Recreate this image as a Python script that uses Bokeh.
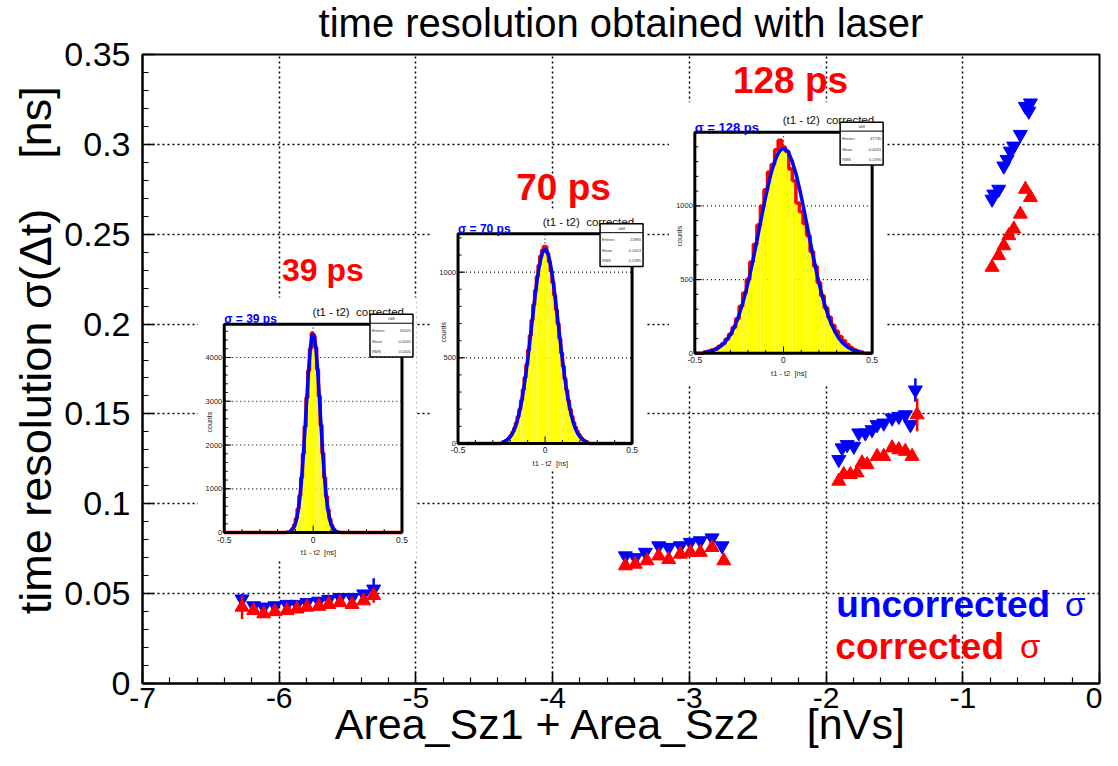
import math
import numpy as np
from bokeh.plotting import figure
from bokeh.models import Range1d, FixedTicker, ColumnDataSource, Title
from bokeh.core.properties import value
from bokeh.embed import file_html
from bokeh.resources import INLINE

FONT = "Liberation Sans"
NB = "\u00a0"

# ---------------- main axes ----------------
x_ticks = [-7, -6, -5, -4, -3, -2, -1, 0]
x_tick_labels = ["-7", "-6", "-5", "-4", "-3", "-2", "-1", "0"]
y_ticks = [0, 0.05, 0.1, 0.15, 0.2, 0.25, 0.3, 0.35]
y_tick_labels = ["0", "0.05", "0.1", "0.15", "0.2", "0.25", "0.3", "0.35"]

# ---------------- main data (uncorrected = blue, corrected = red) ----------------
unc1_x = [-6.272, -6.187, -6.113, -6.031, -5.943, -5.870, -5.797, -5.711, -5.638, -5.555, -5.467, -5.382, -5.309]
unc1_y = [0.0470, 0.0432, 0.0425, 0.0432, 0.0440, 0.0440, 0.0450, 0.0458, 0.0468, 0.0478, 0.0478, 0.0498, 0.0525]
unc1_e = [0.003, 0.002, 0.002, 0.002, 0.002, 0.002, 0.002, 0.002, 0.002, 0.002, 0.002, 0.002, 0.006]
cor1_x = [-6.272, -6.187, -6.113, -6.031, -5.943, -5.870, -5.797, -5.711, -5.638, -5.555, -5.467, -5.382, -5.309]
cor1_y = [0.0425, 0.0406, 0.0388, 0.0400, 0.0406, 0.0415, 0.0425, 0.0430, 0.0440, 0.0450, 0.0440, 0.0460, 0.0490]
cor1_e = [0.0066, 0.002, 0.002, 0.002, 0.002, 0.002, 0.002, 0.002, 0.002, 0.002, 0.002, 0.002, 0.004]

unc2_x = [-3.468, -3.395, -3.322, -3.224, -3.151, -3.066, -2.993, -2.920, -2.834, -2.761]
unc2_y = [0.0710, 0.0700, 0.0730, 0.0766, 0.0757, 0.0766, 0.0785, 0.0794, 0.0810, 0.0766]
unc2_e = [0.002, 0.002, 0.002, 0.002, 0.002, 0.002, 0.002, 0.002, 0.002, 0.002]
cor2_x = [-3.468, -3.395, -3.310, -3.224, -3.151, -3.066, -2.993, -2.920, -2.834, -2.748]
cor2_y = [0.0655, 0.0664, 0.0683, 0.0710, 0.0690, 0.0720, 0.0730, 0.0730, 0.0757, 0.0683]
cor2_e = [0.002, 0.002, 0.002, 0.002, 0.002, 0.002, 0.002, 0.002, 0.002, 0.002]

unc3_x = [-1.907, -1.883, -1.846, -1.797, -1.761, -1.713, -1.664, -1.627, -1.578, -1.517, -1.468, -1.420, -1.383, -1.347]
unc3_y = [0.1246, 0.1311, 0.1329, 0.1320, 0.1394, 0.1394, 0.1412, 0.1440, 0.1449, 0.1477, 0.1486, 0.1495, 0.1440, 0.1633]
unc3_e = [0.002, 0.002, 0.002, 0.002, 0.002, 0.002, 0.002, 0.002, 0.002, 0.002, 0.002, 0.002, 0.002, 0.0065]
cor3_x = [-1.907, -1.871, -1.822, -1.773, -1.737, -1.700, -1.627, -1.578, -1.517, -1.468, -1.420, -1.371, -1.334]
cor3_y = [0.1126, 0.1163, 0.1163, 0.1172, 0.1228, 0.1218, 0.1264, 0.1264, 0.1311, 0.1301, 0.1292, 0.1264, 0.1495]
cor3_e = [0.002, 0.002, 0.002, 0.002, 0.002, 0.002, 0.002, 0.002, 0.002, 0.002, 0.002, 0.002, 0.0092]

unc4_x = [-0.786, -0.773, -0.737, -0.700, -0.676, -0.652, -0.627, -0.579, -0.542, -0.517, -0.505]
unc4_y = [0.2695, 0.2723, 0.2750, 0.2879, 0.2916, 0.2962, 0.2990, 0.3055, 0.3211, 0.3184, 0.3230]
unc4_e = [0.002, 0.002, 0.002, 0.002, 0.002, 0.002, 0.002, 0.002, 0.002, 0.002, 0.002]
cor4_x = [-0.786, -0.737, -0.700, -0.663, -0.627, -0.579, -0.542, -0.505]
cor4_y = [0.2316, 0.2381, 0.2436, 0.2492, 0.2529, 0.2612, 0.2750, 0.2704]
cor4_e = [0.002, 0.002, 0.002, 0.002, 0.002, 0.002, 0.002, 0.002]

# resolution annotations
res_labels = ["39 ps", "70 ps", "128 ps"]
res_x = [-5.680, -3.920, -2.260]
res_y = [0.2300, 0.2760, 0.3355]
res_size = ["32px", "37px", "37px"]

# ---------------- inset histograms (t1 - t2 corrected) ----------------
# inset 1 : sigma = 39 ps
h1_lo, h1_bw = -0.15, 0.01
h1_counts = [8, 20, 45, 95, 180, 320, 540, 840, 1260, 1800, 2420, 3080, 3700, 4200, 4560,
             4500, 4230, 3730, 3120, 2450, 1810, 1260, 830, 520, 310, 170, 90, 42, 18, 7]
f1_step = 0.01
fit1_half = [4514, 4240, 3742, 3102, 2416, 1768, 1215, 784, 476, 271, 145, 73, 34, 15, 6]
h1_yticks = [0, 1000, 2000, 3000, 4000]
h1_ylabels = ["0", "1000", "2000", "3000", "4000"]
h1_ymax = 4760
h1_stats = ["45620", "-0.0002", "0.0405"]

# inset 2 : sigma = 70 ps
h2_lo, h2_bw = -0.25, 0.01
h2_counts = [6, 10, 15, 22, 34, 48, 66, 90, 120, 155, 200, 252, 315, 385, 460, 545, 630, 720, 810, 895,
             975, 1040, 1095, 1130, 1150, 1148, 1110, 1060, 1005, 940, 865, 780, 700, 612, 528,
             450, 378, 312, 252, 200, 158, 122, 95, 72, 54, 38, 26, 17, 10, 6]
f2_step = 0.01
fit2_half = [1132, 1113, 1076, 1023, 956, 879, 794, 706, 617, 530, 448, 372, 304, 244, 193, 150,
             114, 86, 63, 46, 33, 23, 16, 11, 7]
h2_yticks = [0, 500, 1000]
h2_ylabels = ["0", "500", "1000"]
h2_ymax = 1225
h2_stats = ["21890", "0.0013", "0.0781"]

# inset 3 : sigma = 128 ps
h3_lo, h3_bw = -0.45, 0.02
h3_counts = [10, 14, 22, 30, 48, 66, 95, 130, 175, 235, 320, 410, 500, 620, 740, 870, 1000, 1110, 1230, 1280,
             1380, 1445, 1400, 1370, 1250, 1170, 1020, 960, 880, 800, 690, 590, 480, 390, 310,
             245, 190, 150, 115, 85, 60, 40, 25, 15, 8]
f3_step = 0.02
fit3_half = [1386, 1357, 1300, 1220, 1120, 1007, 886, 763, 644, 531, 429, 340, 263, 199, 148, 107,
             76, 53, 36, 24, 16, 10, 6]
h3_yticks = [0, 500, 1000]
h3_ylabels = ["0", "500", "1000"]
h3_ymax = 1500
h3_stats = ["47730", "-0.0031", "0.1390"]

inset_sigma_txt = ["\u03c3 = 39 ps", "\u03c3 = 70 ps", "\u03c3 = 128 ps"]

# inset placement (main data coordinates): frame box and white pad
F1 = (-6.402, -5.102, 0.0840, 0.1999); P1 = (-6.594, -4.999, 0.0687, 0.2148)
F2 = (-4.692, -3.419, 0.1336, 0.2503); P2 = (-4.882, -3.310, 0.1185, 0.2641)
F3 = (-2.960, -1.663, 0.1837, 0.3068); P3 = (-3.149, -1.569, 0.1667, 0.3234)

# ---------------- figure ----------------
W, H = 1102, 750
ML, MR, MT, MB = 142, 3, 50, 68
PXX = (W - ML - MR) / 7.0
PXY = (H - MT - MB) / 0.35

p = figure(width=W, height=H, x_range=Range1d(-7, 0), y_range=Range1d(0, 0.35),
           output_backend="svg", toolbar_location=None, title=None,
           min_border_left=ML, min_border_right=MR, min_border_top=MT, min_border_bottom=0)
p.background_fill_color = "white"
p.border_fill_color = "white"
p.outline_line_color = "black"
p.outline_line_width = 2

ttl = Title(text="time resolution obtained with laser", align="center", vertical_align="top",
            text_font=FONT, text_font_size="40px", text_font_style="normal", text_color="black",
            standoff=0, padding=dict(left=0, right=0, top=0, bottom=8))
p.add_layout(ttl, "above")

p.xaxis.ticker = FixedTicker(ticks=x_ticks, minor_ticks=[round(-7 + 0.2 * i, 3) for i in range(36)])
p.yaxis.ticker = FixedTicker(ticks=y_ticks, minor_ticks=[round(0.01 * i, 3) for i in range(36)])
p.xaxis.major_label_overrides = {t: s for t, s in zip(x_ticks, x_tick_labels)}
p.yaxis.major_label_overrides = {t: s for t, s in zip(y_ticks, y_tick_labels)}
for ax in (p.xaxis, p.yaxis):
    ax.axis_line_width = 2
    ax.axis_line_color = "black"
    ax.major_tick_in = 12
    ax.major_tick_out = 0
    ax.minor_tick_in = 6
    ax.minor_tick_out = 0
    ax.major_tick_line_width = 1.5
    ax.minor_tick_line_width = 1.2
    ax.major_tick_line_color = "black"
    ax.minor_tick_line_color = "black"
    ax.major_label_text_font = FONT
    ax.major_label_text_color = "black"
    ax.axis_label_text_font = FONT
    ax.axis_label_text_font_style = "normal"
    ax.axis_label_text_color = "black"
p.yaxis.major_label_text_font_size = "34px"
p.xaxis.major_label_text_font_size = "30px"
p.xaxis.major_label_standoff = 4
p.yaxis.major_label_standoff = 12
p.xaxis.axis_label = "Area_Sz1 + Area_Sz2" + NB * 4 + "[nVs]"
p.xaxis.axis_label_text_font_size = "43px"
p.xaxis.axis_label_standoff = -11
p.yaxis.axis_label = NB * 3 + "time resolution \u03c3(\u0394t)" + NB * 4 + "[ns]"
p.yaxis.axis_label_text_font_size = "45px"
p.yaxis.axis_label_standoff = 0

p.grid.grid_line_color = "black"
p.grid.grid_line_dash = "2 3"
p.grid.grid_line_width = 1.5


def txt(r, x, y, s, size, color="black", align="left", baseline="middle", angle=0.0, bold=False):
    r.text(x=x, y=y, text=s, text_font=value(FONT), text_font_size=size, text_color=color,
           text_align=align, text_baseline=baseline, angle=angle,
           text_font_style="bold" if bold else "normal")


def inset(frame, pad, ymax, lo, bw, counts, fstep, fit_half, yticks, ylabels, ystep, sig, stats, sig_size):
    fx0, fx1, fy0, fy1 = frame
    p.quad(left=[pad[0]], right=[pad[1]], bottom=[pad[2]], top=[pad[3]],
           fill_color="white", line_color=None)
    sub = p.subplot(x_source=Range1d(-0.5, 0.5), y_source=Range1d(0, ymax),
                    x_target=Range1d(fx0, fx1), y_target=Range1d(fy0, fy1))
    kx = 1.0 / ((fx1 - fx0) * PXX)
    ky = ymax / ((fy1 - fy0) * PXY)
    # grid
    gx = [[-0.5, 0.5] for t in yticks[1:]] + [[0.0, 0.0]]
    gy = [[t, t] for t in yticks[1:]] + [[0.0, ymax]]
    sub.multi_line(xs=gx, ys=gy, line_color="black", line_dash="1 3", line_width=1.2)
    # histogram
    n = len(counts)
    edges = [lo + bw * i for i in range(n + 1)]
    sub.quad(left=edges[:-1], right=edges[1:], bottom=[0] * n, top=counts,
             fill_color="#ffff00", line_color=None)
    sx, sy = [-0.5, edges[0]], [0, 0]
    for i, c in enumerate(counts):
        sx += [edges[i], edges[i + 1]]
        sy += [c, c]
    sx += [edges[-1], 0.5]
    sy += [0, 0]
    sub.line(sx, sy, line_color="#ff0000", line_width=3.5)
    # gaussian fit
    m = len(fit_half)
    fxs = [-(fstep / 2 + fstep * (m - 1 - i)) for i in range(m)] + [fstep / 2 + fstep * i for i in range(m)]
    fys = fit_half[::-1] + fit_half
    sub.line(fxs, fys, line_color="#0000ff", line_width=3.5)
    # ticks
    mt = [t for t in np.arange(0, ymax, ystep)]
    sub.segment(x0=[-0.5] * len(mt), y0=mt, x1=[-0.5 + 3.5 * kx] * len(mt), y1=mt, line_color="black", line_width=1)
    sub.segment(x0=[-0.5] * len(yticks), y0=yticks, x1=[-0.5 + 7 * kx] * len(yticks), y1=yticks,
                line_color="black", line_width=1)
    xt = [round(-0.5 + 0.1 * i, 2) for i in range(11)]
    xl = [7 * ky if abs(t) in (0.0, 0.5) else 3.5 * ky for t in xt]
    sub.segment(x0=xt, y0=[0] * len(xt), x1=xt, y1=xl, line_color="black", line_width=1)
    # frame
    sub.quad(left=[-0.5], right=[0.5], bottom=[0], top=[ymax], fill_color=None,
             line_color="black", line_width=3)
    # labels
    txt(sub, [-0.5 - 2 * kx] * len(yticks), yticks, ylabels, "7.5px", "#222222", "right", "middle")
    txt(sub, [-0.5, 0.0, 0.5], [-4 * ky] * 3, ["-0.5", "0", "0.5"], "8.5px", "#222222", "center", "top")
    txt(sub, [0.03], [-20 * ky], ["t1 - t2" + NB * 2 + "[ns]"], "7.5px", "#222222", "center", "middle")
    txt(sub, [-0.5 - 15 * kx], [ymax * 0.53], ["counts"], "7px", "#222222", "center", "middle", angle=math.pi / 2)
    txt(sub, [0.5 + 2 * kx], [ymax + 12 * ky], ["(t1 - t2)" + NB * 2 + "corrected"], "11.5px", "#111111", "right", "middle")
    txt(sub, [-0.5], [ymax + 5 * ky], [sig], sig_size, "#0000ff", "left", "middle", bold=True)
    # stats box
    bl, br = 0.5 - 32 * kx, 0.5 + 11 * kx
    bt, bb = ymax + 10 * ky, ymax - 33 * ky
    sub.quad(left=[bl], right=[br], bottom=[bb], top=[bt], fill_color="white", line_color="black", line_width=1.5)
    sub.segment(x0=[bl], y0=[ymax + 1 * ky], x1=[br], y1=[ymax + 1 * ky], line_color="black", line_width=1)
    txt(sub, [(bl + br) / 2], [ymax + 5.5 * ky], ["tdiff"], "4px", "#333333", "center", "middle")
    rows_y = [ymax - 6 * ky, ymax - 17 * ky, ymax - 27 * ky]
    txt(sub, [bl + 2 * kx] * 3, rows_y, ["Entries", "Mean", "RMS"], "4px", "#333333", "left", "middle")
    txt(sub, [br - 2 * kx] * 3, rows_y, stats, "4px", "#333333", "right", "middle")


inset(F1, P1, h1_ymax, h1_lo, h1_bw, h1_counts, f1_step, fit1_half, h1_yticks, h1_ylabels, 200,
      inset_sigma_txt[0], h1_stats, "12px")
inset(F2, P2, h2_ymax, h2_lo, h2_bw, h2_counts, f2_step, fit2_half, h2_yticks, h2_ylabels, 100,
      inset_sigma_txt[1], h2_stats, "12px")
inset(F3, P3, h3_ymax, h3_lo, h3_bw, h3_counts, f3_step, fit3_half, h3_yticks, h3_ylabels, 100,
      inset_sigma_txt[2], h3_stats, "13px")

# resolution annotations
for lab, x, y, fs in zip(res_labels, res_x, res_y, res_size):
    txt(p, [x], [y], [lab], fs, "#ff0000", "center", "middle", bold=True)

# main data
ux = unc1_x + unc2_x + unc3_x + unc4_x
uy = unc1_y + unc2_y + unc3_y + unc4_y
ue = unc1_e + unc2_e + unc3_e + unc4_e
cx = cor1_x + cor2_x + cor3_x + cor4_x
cy = cor1_y + cor2_y + cor3_y + cor4_y
ce = cor1_e + cor2_e + cor3_e + cor4_e

usrc = ColumnDataSource(dict(x=ux, y=uy, lo=list(np.array(uy) - np.array(ue)), hi=list(np.array(uy) + np.array(ue))))
csrc = ColumnDataSource(dict(x=cx, y=cy, lo=list(np.array(cy) - np.array(ce)), hi=list(np.array(cy) + np.array(ce))))

p.segment(x0="x", y0="lo", x1="x", y1="hi", source=usrc, line_color="#0000ff", line_width=2.5)
p.scatter(x="x", y="y", source=usrc, marker="inverted_triangle", size=14,
          fill_color="#0000ff", line_color="#0000ff")
p.segment(x0="x", y0="lo", x1="x", y1="hi", source=csrc, line_color="#ff0000", line_width=2.5)
p.scatter(x="x", y="y", source=csrc, marker="triangle", size=14,
          fill_color="#ff0000", line_color="#ff0000")

# legend texts
txt(p, [-1.925], [0.0440], ["uncorrected"], "37px", "#0000ff", "left", "middle", bold=True)
txt(p, [-0.252], [0.0440], ["\u03c3"], "33px", "#0000ff", "left", "middle")
txt(p, [-1.932], [0.0207], ["corrected"], "37px", "#ff0000", "left", "middle", bold=True)
txt(p, [-0.581], [0.0207], ["\u03c3"], "33px", "#ff0000", "left", "middle")

open("out.html", "w").write(file_html(p, INLINE))
